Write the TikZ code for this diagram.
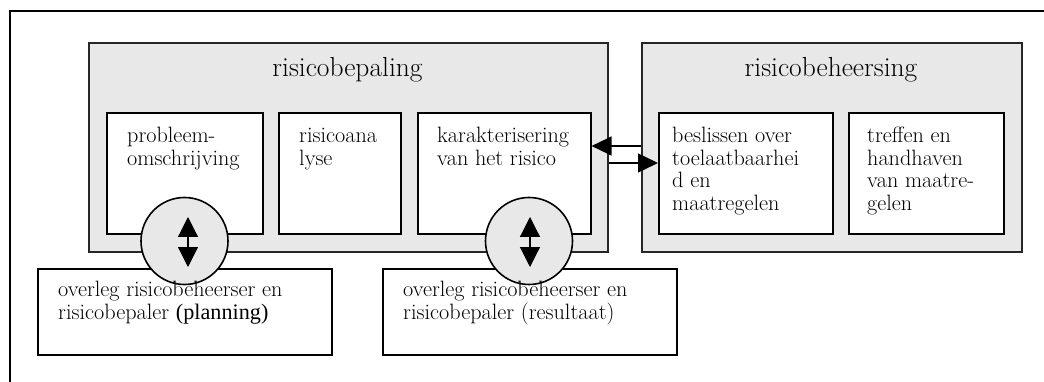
\documentclass[tikz,border=0pt]{standalone}
\usepackage{fontspec}
\newfontfamily\timesfont{Liberation Serif}
\usetikzlibrary{arrows.meta}
\begin{document}
\begin{tikzpicture}[x=1pt,y=-1pt,
  bigbox/.style={draw=black!85, line width=1.6pt, fill=gray!18, anchor=north west, inner sep=0pt},
  whitebox/.style={draw=black, line width=1.6pt, fill=white, anchor=north west, inner sep=0pt},
  ttl/.style={anchor=base, inner sep=0pt, font=\fontsize{27.5}{30}\selectfont},
  lbl/.style={anchor=base west, align=left, inner sep=0pt, font=\fontsize{22.2}{22.5}\selectfont},
  disc/.style={circle, draw=black, line width=1.6pt, fill=gray!18, minimum size=87pt, inner sep=0pt},
  arr/.style={line width=1.4pt, -{Triangle[length=20pt,width=19pt]}},
  darr/.style={line width=1.2pt, {Triangle[length=20pt,width=20pt]}-{Triangle[length=20pt,width=20pt]}}
]
\useasboundingbox (0,0) rectangle (1044,382);
% outer frame
\draw[line width=1.5pt] (1044,11) -- (10,11) -- (10,382);
% main boxes
\node[bigbox, minimum width=519pt, minimum height=209pt] (bp) at (88,42) {};
\node[bigbox, minimum width=380pt, minimum height=209pt] (bh) at (641,42) {};
\node[whitebox, minimum width=156pt, minimum height=121pt] (b1) at (106,112) {};
\node[whitebox, minimum width=122pt, minimum height=121pt] (b2) at (278,112) {};
\node[whitebox, minimum width=173pt, minimum height=121pt] (b3) at (417,112) {};
\node[whitebox, minimum width=174pt, minimum height=121pt] (b4) at (658,112) {};
\node[whitebox, minimum width=155pt, minimum height=121pt] (b5) at (848,112) {};
% titles
\node[ttl] (t1) at (347.5,77) {risicobepaling};
\node[ttl] (t2) at (831,77) {risicobeheersing};
% labels (anchor = baseline of the last line)
\node[lbl] (l1) at (127,165.5) {probleem-\\omschrijving};
\node[lbl] (l2) at (299,165.5) {risicoana\\lyse};
\node[lbl] (l3) at (437,165.5) {karakterisering\\van het risico};
\node[lbl] (l4) at (672,210.5) {beslissen over\\toelaatbaarhei\\d en\\maatregelen};
\node[lbl] (l5) at (867,210.5) {treffen en\\handhaven\\van maatre-\\gelen};
% connectors between the two phases
\coordinate (ya) at (0,146);
\coordinate (yb) at (0,163);
\draw[arr] (bh.west |- ya) -- (b3.east |- ya);
\draw[arr] (bp.east |- yb) -- (b4.west |- yb);
% consultation boxes
\node[whitebox, minimum width=294pt, minimum height=86pt] (o1) at (37,268) {};
\node[whitebox, minimum width=294pt, minimum height=86pt] (o2) at (382,268) {};
% discs
\node[disc] (c1) at (184.5,241) {};
\node[disc] (c2) at (529,241) {};
\coordinate (u1) at (188,217);
\coordinate (d1) at (188,267);
\coordinate (u2) at (530,217);
\coordinate (d2) at (530,267);
\draw[darr] (u1) -- (d1);
\draw[darr] (u2) -- (d2);
% consultation labels
\node[lbl] (l6) at (58,319) {overleg risicobeheerser en\\risicobepaler {\timesfont (planning)}};
\node[lbl] (l7) at (403,319) {overleg risicobeheerser en\\risicobepaler (resultaat)};
\end{tikzpicture}
\end{document}
